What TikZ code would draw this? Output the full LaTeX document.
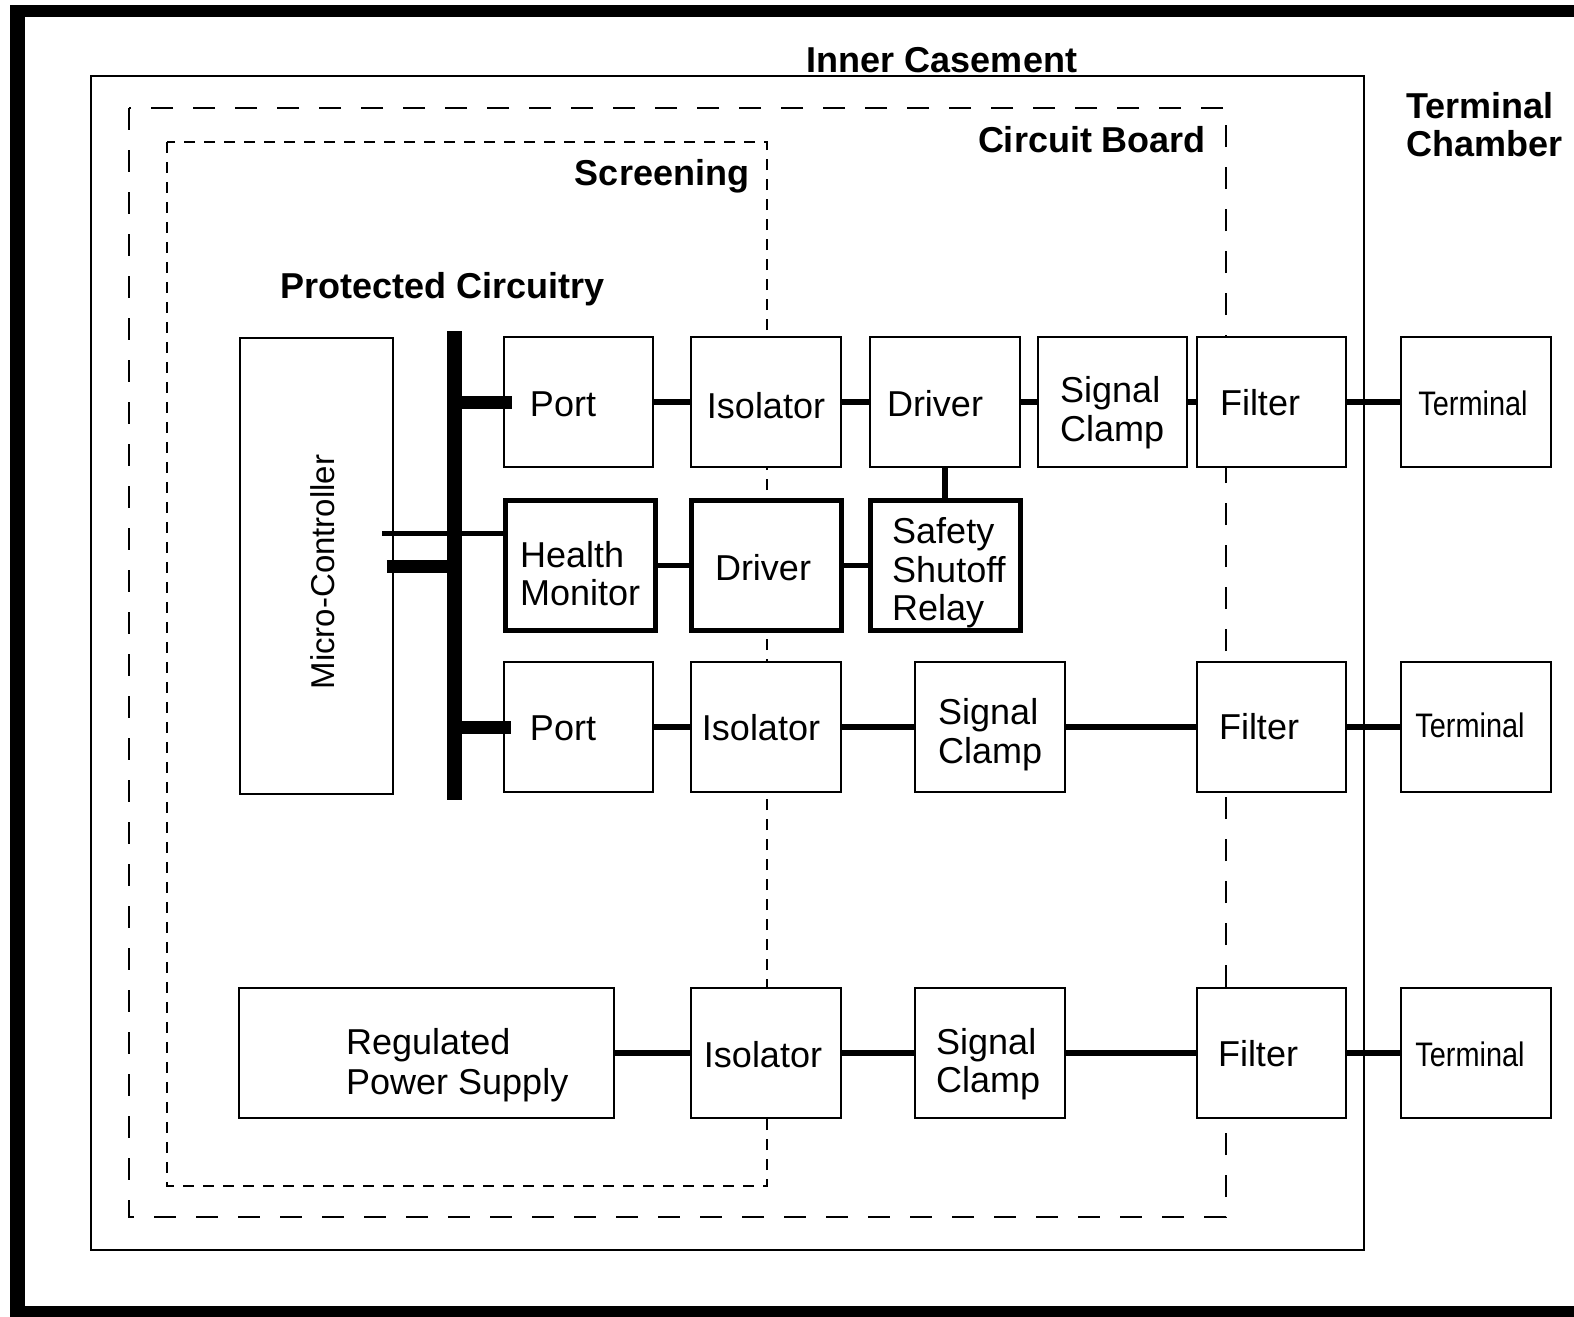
\documentclass[tikz,border=0pt]{standalone}
\usepackage{fontspec}
\setmainfont{Liberation Sans}
\newfontfamily\narrowsans[FakeStretch=0.85]{Liberation Sans}
\begin{document}
\begin{tikzpicture}[x=1pt,y=-1pt,
  box/.style={draw, line width=1.6pt, fill=white, inner sep=0pt, minimum width=150, minimum height=130},
  heavybox/.style={draw, line width=5pt, fill=white, inner sep=0pt, minimum width=150, minimum height=130},
  lbl/.style={inner sep=0pt, font=\fontsize{36}{39}\selectfont},
  term/.style={inner sep=0pt, font=\fontsize{34}{38}\selectfont\narrowsans},
  hdr/.style={inner sep=0pt, font=\fontsize{36}{38}\selectfont\bfseries},
  link/.style={line width=6pt},
  stub/.style={line width=13pt},
  frame/.style={line width=1.6pt},
]
\useasboundingbox (0,0) rectangle (1574,1317);

% heavy outer border (open on the right)
\fill (10,5) rectangle (1574,17);
\fill (10,5) rectangle (25,1317);
\fill (10,1306) rectangle (1574,1317);

% enclosures
\draw[frame] (91,76) rectangle (1364,1250);
\draw[frame, dash pattern=on 22pt off 20pt] (129,108) rectangle (1226,1217);
\draw[line width=1.4pt, dash pattern=on 11pt off 9pt] (167,142) rectangle (767,1186);

% blocks
\node[box, minimum width=153, minimum height=456] (mc) at (316.5,566) {};
\node[fill, inner sep=0pt, minimum width=15, minimum height=469] (bus) at (454,565.5) {};

\node[box, minimum width=149] (port1) at (578.5,402) {};
\node[box] (iso1) at (766,402) {};
\node[box] (drv1) at (945,402) {};
\node[box, minimum width=149] (sc1) at (1112.5,402) {};
\node[box, minimum width=149] (fil1) at (1271.5,402) {};
\node[box] (term1) at (1476,402) {};

\node[heavybox] (hm) at (580,565) {};
\node[heavybox] (drv2) at (766,565) {};
\node[heavybox] (ssr) at (945,565) {};

\node[box, minimum width=149] (port2) at (578.5,727) {};
\node[box] (iso2) at (766,727) {};
\node[box] (sc2) at (990,727) {};
\node[box, minimum width=149] (fil2) at (1271.5,727) {};
\node[box] (term2) at (1476,727) {};

\node[box, minimum width=375] (rps) at (426.5,1053) {};
\node[box] (iso3) at (766,1053) {};
\node[box] (sc3) at (990,1053) {};
\node[box, minimum width=149] (fil3) at (1271.5,1053) {};
\node[box] (term3) at (1476,1053) {};

% bus taps
\draw[stub] (bus.center |- port1.west) -- ([xshift=9pt]port1.west);
\draw[stub] (bus.center |- port2.west) -- ([xshift=8pt]port2.west);
\draw[stub] ([xshift=-7pt]mc.east) -- (bus.center |- mc.east);
\coordinate (mcline) at (382,533);
\draw[line width=5pt] (mcline) -- (mcline -| hm.west);

% signal chains
\draw[link] (port1.east) -- (iso1.west);
\draw[link] (iso1.east) -- (drv1.west);
\draw[link] (drv1.east) -- (sc1.west);
\draw[link] (sc1.east) -- (fil1.west);
\draw[link] (fil1.east) -- (term1.west);
\draw[link] (drv1.south) -- (ssr.north);

\draw[line width=5pt] (hm.east) -- (drv2.west);
\draw[line width=5pt] (drv2.east) -- (ssr.west);

\draw[link] (port2.east) -- (iso2.west);
\draw[link] (iso2.east) -- (sc2.west);
\draw[link] (sc2.east) -- (fil2.west);
\draw[link] (fil2.east) -- (term2.west);

\draw[link] (rps.east) -- (iso3.west);
\draw[link] (iso3.east) -- (sc3.west);
\draw[link] (sc3.east) -- (fil3.west);
\draw[link] (fil3.east) -- (term3.west);

% block labels
\node[lbl, rotate=90, font=\fontsize{33}{36}\selectfont] (t-mc) at (323,572) {Micro-Controller};
\node[lbl] (t-port1) at (563,404) {Port};
\node[lbl] (t-iso1) at (766,406) {Isolator};
\node[lbl] (t-drv1) at (935,404) {Driver};
\node[lbl, align=left, anchor=west] (t-sc1) at (1060,413) {Signal\\Clamp};
\node[lbl] (t-fil1) at (1260,403) {Filter};
\node[term] (t-term1) at (1473,403) {Terminal};

\node[lbl, align=left, anchor=west, font=\fontsize{36}{38}\selectfont] (t-hm) at (520,574) {Health\\Monitor};
\node[lbl] (t-drv2) at (763,568) {Driver};
\node[lbl, align=left, anchor=west, font=\fontsize{36}{38.5}\selectfont] (t-ssr) at (892,573) {Safety\\Shutoff\\Relay};

\node[lbl] (t-port2) at (563,728) {Port};
\node[lbl] (t-iso2) at (761,728) {Isolator};
\node[lbl, align=left, anchor=west] (t-sc2) at (938,735) {Signal\\Clamp};
\node[lbl] (t-fil2) at (1259,727) {Filter};
\node[term] (t-term2) at (1470,725) {Terminal};

\node[lbl, align=left, anchor=west, font=\fontsize{36}{40}\selectfont] (t-rps) at (346,1065) {Regulated\\Power Supply};
\node[lbl] (t-iso3) at (763,1055) {Isolator};
\node[lbl, align=left, anchor=west, font=\fontsize{36}{38}\selectfont] (t-sc3) at (936,1064) {Signal\\Clamp};
\node[lbl] (t-fil3) at (1258,1054) {Filter};
\node[term] (t-term3) at (1470,1054) {Terminal};

% enclosure titles
\node[hdr, anchor=base] (h-casement) at (942,72) {Inner Casement};
\node[hdr, anchor=base] (h-board) at (1092,152) {Circuit Board};
\node[hdr, anchor=base] (h-screen) at (662,185) {Screening};
\node[hdr, anchor=base] (h-protected) at (443,298) {Protected Circuitry};
\node[hdr, align=left, anchor=west] (h-chamber) at (1406,125) {Terminal\\Chamber};
\end{tikzpicture}
\end{document}
